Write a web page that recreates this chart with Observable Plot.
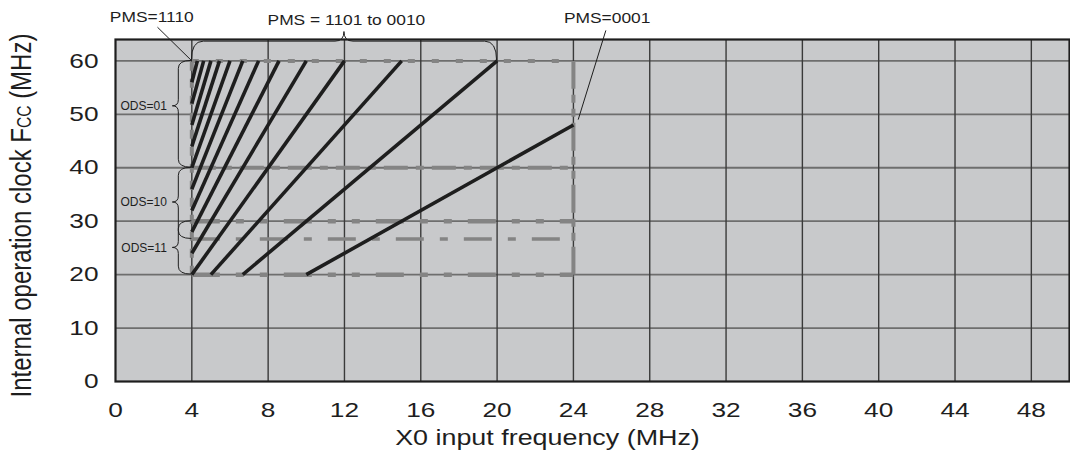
<!DOCTYPE html>
<html>
<head>
<meta charset="utf-8">
<script src="https://cdn.jsdelivr.net/npm/d3@7"></script>
<script src="https://cdn.jsdelivr.net/npm/@observablehq/plot@0.6"></script>
<style>
  html, body { margin: 0; padding: 0; background: #ffffff; }
  #chart { width: 1070px; height: 460px; }
</style>
</head>
<body>
<div id="chart"></div>
<script>
// ---------------- data ----------------
const xTicks = [0, 4, 8, 12, 16, 20, 24, 28, 32, 36, 40, 44, 48];
const yTicks = [0, 10, 20, 30, 40, 50, 60];
const xGrid = [4, 8, 12, 16, 20, 24, 28, 32, 36, 40, 44, 48];
const yGrid = [10, 20, 30, 40, 50, 60];

// operating area limits (MHz)
const x0Min = 4, x0Max = 24;
const fccLimits = [60, 40, 30, 26.67, 20];

// PMS multiplication lines: start / end points (X0 MHz, Fcc MHz)
const pmsCode = ["0001", "0010", "0011", "0100", "0101", "0110", "0111", "1000", "1001", "1010", "1011", "1100", "1101"];
const lineX1 = [10, 6.67, 5, 4, 4, 4, 4, 4, 4, 4, 4, 4, 4];
const lineY1 = [20, 20, 20, 20, 24, 28, 32, 36, 40, 44, 48, 52, 56];
const lineX2 = [24, 20, 15, 12, 10, 8.57, 7.5, 6.67, 6, 5.45, 5, 4.62, 4.29];
const lineY2 = [48, 60, 60, 60, 60, 60, 60, 60, 60, 60, 60, 60, 60];

// ODS ranges (Fcc MHz)
const odsText = ["ODS=01", "ODS=10", "ODS=11"];
const odsTop = [60, 40, 30];
const odsBottom = [40, 26.67, 20];
const odsTip = [51.5, 33.5, 25];

// PMS annotations
const pmsText = ["PMS=1110", "PMS = 1101 to 0010", "PMS=0001"];
const pmsTextX = [1.9, 12.1, 25.77];
const pmsTextY = [68.2, 67.6, 68.0];
const leadX1 = [2.2, 25.7];
const leadY1 = [66.3, 65.7];
const leadX2 = [4, 24.25];
const leadY2 = [60, 49];
const braceFrom = 4, braceTo = 20, braceTipX = 12, braceLevel = 63.6, braceTipLevel = 65.4;

const xTitle = "X0 input frequency (MHz)";
const yTitle = ["Internal operation clock F", "CC", " (MHz)"];

// ---------------- chart ----------------
const gray = "#848484";
const ink = "#1e1e1e";
const idx = d3.range(pmsCode.length);

function limitH(v, dash, w) {
  return Plot.link([v], {
    x1: () => x0Min, x2: () => x0Max, y1: d => d, y2: d => d,
    stroke: gray, strokeWidth: w, strokeDasharray: dash
  });
}
function limitV(v, dash, w) {
  return Plot.link([v], {
    x1: d => d, x2: d => d, y1: () => fccLimits[4], y2: () => fccLimits[0],
    stroke: gray, strokeWidth: w, strokeDasharray: dash
  });
}

const plot = Plot.plot({
  width: 1070,
  height: 460,
  marginLeft: 115,
  marginRight: 1,
  marginTop: 39,
  marginBottom: 79,
  x: { domain: [0, 50] },
  y: { domain: [0, 64] },
  style: {
    fontFamily: "'Liberation Sans', Arial, Helvetica, sans-serif",
    fontSize: "21px",
    color: ink,
    background: "#ffffff",
    overflow: "visible"
  },
  marks: [
    Plot.frame({ fill: "#c8c9cb", stroke: "none" }),
    Plot.gridY(yGrid, { stroke: "#6e6e6e", strokeOpacity: 1, strokeWidth: 1.8 }),
    Plot.gridX(xGrid, { stroke: "#3a3a3a", strokeOpacity: 1, strokeWidth: 1.4 }),
    limitH(fccLimits[0], "7,17", 4),
    limitH(fccLimits[1], "24,8,8,8", 4),
    limitH(fccLimits[2], "28,16,8,16,8,16", 4.5),
    limitH(fccLimits[3], "28,16,8,16", 3.5),
    limitH(fccLimits[4], "28,16,8,16,8,16", 4.5),
    limitV(x0Min, "9,8", 4),
    limitV(x0Max, "28,6,8,6,8,6", 4),
    Plot.link(idx, {
      x1: i => lineX1[i], y1: i => lineY1[i], x2: i => lineX2[i], y2: i => lineY2[i],
      stroke: ink, strokeWidth: 3.6
    }),
    Plot.link(d3.range(leadX1.length), {
      x1: i => leadX1[i], y1: i => leadY1[i], x2: i => leadX2[i], y2: i => leadY2[i],
      stroke: ink, strokeWidth: 1
    }),
    Plot.text(pmsText, {
      x: (d, i) => pmsTextX[i], y: (d, i) => pmsTextY[i],
      fontSize: 14.5, fill: ink
    }),
    Plot.text(odsText, {
      x: () => x0Min, y: (d, i) => odsTip[i], dx: -25,
      textAnchor: "end", fontSize: 12, fill: ink
    }),
    Plot.frame({ stroke: ink, strokeWidth: 2.2 }),
    Plot.axisX({
      ticks: xTicks, tickSize: 0, tickPadding: 21, tickFormat: d => String(d),
      label: xTitle, labelAnchor: "center", labelOffset: 63, labelArrow: "none"
    }),
    Plot.axisY({
      ticks: yTicks, tickSize: 0, tickPadding: 17, tickFormat: d => String(d),
      label: yTitle.join(""), labelAnchor: "center", labelOffset: 106, labelArrow: "none"
    })
  ]
});

document.getElementById("chart").appendChild(plot);

// ---------------- post-processing ----------------
const svg = d3.select(plot);
// horizontal stretch of glyphs (the reference artwork is widened), with optional shift
function stretch(sel, s, shift = [0, 0]) {
  sel.each(function () {
    let t = this.getAttribute("transform") || "";
    const xa = this.getAttribute("x"), ya = this.getAttribute("y");
    if (xa != null && !isNaN(+xa)) {
      t = `${t} translate(${+xa},${ya != null && !isNaN(+ya) ? +ya : 0})`;
      this.removeAttribute("x");
      if (ya != null && !isNaN(+ya)) this.removeAttribute("y");
    }
    const sh = `translate(${shift[0]},${shift[1]}) scale(${s},1)`;
    this.setAttribute("transform", t.includes("rotate") ? t.replace("rotate", `${sh} rotate`) : `${t} ${sh}`);
  });
}
stretch(svg.selectAll('[aria-label="x-axis tick label"] text, [aria-label="y-axis tick label"] text'), 1.25);
stretch(svg.selectAll("text").filter(function () { return pmsText.includes(this.textContent); }), 1.2);

const xl = svg.selectAll('[aria-label="x-axis label"] text').style("font-size", "21.5px").text(xTitle);
stretch(xl, 1.25, [-45, 0]);

const yl = svg.selectAll('[aria-label="y-axis label"] text').style("font-size", "24px");
yl.each(function () {
  const t = d3.select(this);
  t.text(null);
  t.append("tspan").text(yTitle[0]);
  t.append("tspan").attr("font-size", "65%").text(yTitle[1]);
  t.append("tspan").text(yTitle[2]);
});
stretch(yl, 1.25, [0, 5]);

// braces (drawn through the plot's own scales)
const sx = plot.scale("x"), sy = plot.scale("y");
const X = v => sx.apply(v), Y = v => sy.apply(v);
const g = svg.append("g").attr("aria-label", "braces")
  .attr("fill", "none").attr("stroke", ink).attr("stroke-width", 1);

{
  const x1 = X(braceFrom), x2 = X(braceTo), xt = X(braceTipX);
  const yb = Y(braceLevel), yt = Y(braceTipLevel), y0 = Y(fccLimits[0]);
  g.append("path").attr("d",
    `M${x1},${y0} Q${x1},${yb} ${x1 + 12},${yb} L${xt - 9},${yb} Q${xt},${yb} ${xt},${yt}` +
    ` Q${xt},${yb} ${xt + 9},${yb} L${x2 - 12},${yb} Q${x2},${yb} ${x2},${y0}`);
}
odsText.forEach((_, i) => {
  const xr = X(x0Min), xv = xr - 13, xt = xr - 19;
  const y1 = Y(odsTop[i]), y2 = Y(odsBottom[i]), ym = Y(odsTip[i]);
  g.append("path").attr("d",
    `M${xr},${y1} Q${xv},${y1} ${xv},${y1 + 8} L${xv},${ym - 6} Q${xv},${ym} ${xt},${ym}` +
    ` Q${xv},${ym} ${xv},${ym + 6} L${xv},${y2 - 8} Q${xv},${y2} ${xr},${y2}`);
});
</script>
</body>
</html>
